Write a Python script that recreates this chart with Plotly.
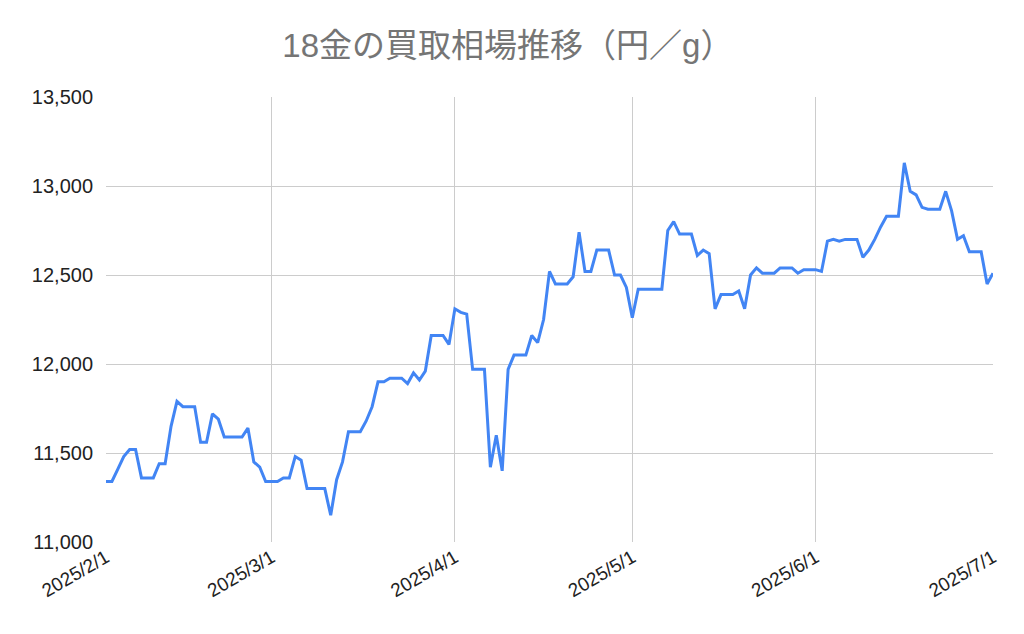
import datetime as dt
import plotly.graph_objects as go

start_date = "2025-02-01"
prices = [
    11340, 11340, 11410, 11480, 11520, 11520, 11360, 11360, 11360, 11440,
    11440, 11650, 11790, 11760, 11760, 11760, 11560, 11560, 11720, 11690,
    11590, 11590, 11590, 11590, 11640, 11450, 11420, 11340, 11340, 11340,
    11360, 11360, 11480, 11460, 11300, 11300, 11300, 11300, 11150, 11350,
    11450, 11620, 11620, 11620, 11680, 11760, 11900, 11900, 11920, 11920,
    11920, 11890, 11950, 11910, 11960, 12160, 12160, 12160, 12110, 12310,
    12290, 12280, 11970, 11970, 11970, 11420, 11600, 11400, 11970, 12050,
    12050, 12050, 12160, 12120, 12250, 12520, 12450, 12450, 12450, 12490,
    12740, 12520, 12520, 12640, 12640, 12640, 12500, 12500, 12430, 12260,
    12420, 12420, 12420, 12420, 12420, 12750, 12800, 12730, 12730, 12730,
    12610, 12640, 12620, 12310, 12390, 12390, 12390, 12410, 12310, 12500,
    12540, 12510, 12510, 12510, 12540, 12540, 12540, 12510, 12530, 12530,
    12530, 12520, 12690, 12700, 12690, 12700, 12700, 12700, 12600, 12640,
    12700, 12770, 12830, 12830, 12830, 13130, 12970, 12950, 12880, 12870,
    12870, 12870, 12970, 12860, 12700, 12720, 12630, 12630, 12630, 12450,
    12510,
]
x_ticks = ["2025-02-01", "2025-03-01", "2025-04-01", "2025-05-01", "2025-06-01", "2025-07-01"]
x_tick_labels = ["2025/2/1", "2025/3/1", "2025/4/1", "2025/5/1", "2025/6/1", "2025/7/1"]
y_ticks = [11000, 11500, 12000, 12500, 13000, 13500]

d0 = dt.date.fromisoformat(start_date)
dates = [d0 + dt.timedelta(days=i) for i in range(len(prices))]

font_family = "Arial, Liberation Sans, Noto Sans CJK JP, sans-serif"

fig = go.Figure()
fig.add_trace(go.Scatter(
    x=dates, y=prices, mode="lines",
    line=dict(color="#4285F4", width=3),
    showlegend=False, hoverinfo="x+y",
))

fig.update_layout(
    width=1024, height=634,
    paper_bgcolor="white", plot_bgcolor="white",
    margin=dict(l=106, r=31, t=97, b=92),
    title=dict(
        text="18金の買取相場推移（円／g）",
        x=0.496, xanchor="center", xref="container",
        y=0.929, yanchor="middle", yref="container",
        font=dict(family=font_family, size=33, color="#757575"),
    ),
    font=dict(family=font_family, color="#222222"),
)
fig.update_xaxes(
    type="date",
    range=[x_ticks[0], x_ticks[-1]],
    tickmode="array", tickvals=x_ticks, ticktext=x_tick_labels,
    tickangle=-30,
    tickfont=dict(size=19, color="#222222"),
    showgrid=True, gridcolor="#CCCCCC", gridwidth=1,
    showline=False, zeroline=False, ticks="",
    automargin=False,
)
fig.update_yaxes(
    range=[y_ticks[0], y_ticks[-1]],
    tickmode="array", tickvals=y_ticks,
    tickformat=",",
    tickfont=dict(size=20, color="#222222"),
    showgrid=True, gridcolor="#CCCCCC", gridwidth=1,
    showline=False, zeroline=False, ticks="", ticklabelstandoff=12,
    automargin=False,
)

fig.write_html(
    "out.html",
    config={"displayModeBar": False},
    post_script="document.body.style.margin='0';document.body.style.overflow='hidden';",
)
